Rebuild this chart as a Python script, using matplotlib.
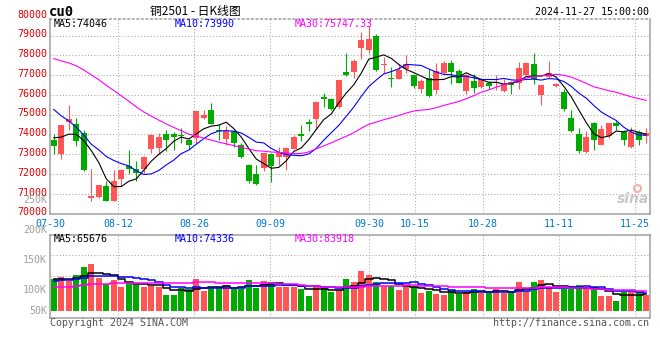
import matplotlib
matplotlib.use("Agg")
import matplotlib.pyplot as plt
import numpy as np
import pandas as pd

plt.rcParams['font.family'] = ['DejaVu Sans Mono', 'Noto Sans CJK SC']

# 日期刻度（交易日序号）
tick_dates = ['07-30', '08-12', '08-26', '09-09', '09-30', '10-15', '10-28', '11-11', '11-25']
tick_idx = [0, 9, 19, 29, 42, 48, 57, 67, 77]

# 日K数据 07-30 ~ 11-27
opens = [73700, 72990, 74640, 74510, 74090, 70780, 70830, 71420, 70660, 71740,
         72400, 72230, 72280, 73290, 73330, 74050, 74050, 73990, 73710, 73830,
         74850, 75230, 74250, 73750, 74200, 73480, 72450, 72010, 72310, 72990,
         72870, 72870, 73290, 74000, 74630, 74760, 75910, 75770, 75400, 77160,
         77160, 78390, 78270, 78980, 77510, 76870, 76820, 77330, 77010, 76280,
         76870, 76250, 77120, 77600, 77210, 76200, 76700, 76400, 76580, 76600,
         76200, 76650, 76620, 76990, 77550, 75980, 76920, 76450, 76140, 74810,
         74050, 73110, 74590, 73490, 73920, 74560, 74140, 73360, 74140, 73920]
highs = [74000, 74500, 75470, 74810, 74250, 72230, 71440, 71640, 72180, 72230,
         73240, 72650, 72900, 74030, 74100, 74250, 74120, 74340, 73750, 75200,
         75230, 75570, 74510, 74420, 74250, 73580, 72520, 72450, 73070, 73070,
         73360, 73360, 73950, 74460, 74760, 75690, 76080, 75860, 76750, 78140,
         77800, 79180, 79490, 79060, 77930, 77430, 77550, 78000, 77040, 76790,
         77290, 77630, 77710, 77770, 77290, 77040, 77040, 76870, 76700, 76990,
         76790, 76700, 77660, 77660, 78140, 76480, 77710, 76600, 76280, 75230,
         74340, 74170, 74630, 74460, 74590, 74680, 74250, 74390, 74220, 74340]
lows = [72990, 72740, 74250, 73410, 72150, 70630, 70800, 70630, 70630, 71380,
        71980, 71640, 72060, 73070, 72990, 73160, 73240, 73550, 73290, 73580,
        74760, 74510, 73710, 73490, 73360, 72820, 71550, 71470, 72140, 71600,
        72450, 72190, 73250, 73660, 74170, 74300, 75400, 75230, 75350, 76950,
        76870, 77830, 78100, 77210, 77120, 76400, 76790, 77120, 76360, 76110,
        75910, 76030, 77050, 76530, 76580, 76030, 76080, 76330, 76280, 76250,
        76160, 76030, 76280, 76950, 76530, 75470, 76870, 76420, 75180, 74120,
        73070, 73040, 73240, 73460, 73830, 74220, 73490, 73340, 73460, 73550]
closes = [73410, 74470, 74760, 73660, 72180, 70880, 71430, 70660, 71670, 72180,
          72230, 72030, 72850, 73970, 73880, 73710, 73880, 73920, 73460, 75180,
          75010, 74540, 74170, 74200, 73580, 72850, 71670, 71500, 73040, 72400,
          73070, 73330, 73870, 73920, 74510, 75640, 75820, 75300, 76740, 76990,
          77710, 78780, 78810, 77260, 77580, 76820, 77240, 77550, 76450, 76700,
          75940, 77210, 77630, 77160, 76620, 76990, 76330, 76790, 76450, 76650,
          76530, 76480, 77380, 77600, 76820, 76480, 77090, 76530, 75270, 74170,
          73160, 73880, 73710, 74290, 74560, 74420, 73710, 74140, 73710, 74090]
# 成交量
volumes = [118800, 121700, 116000, 125500, 138800, 144400, 121000, 110000, 117200, 105500,
           113300, 108800, 105500, 107200, 105500, 92200, 92200, 103300, 101700, 118800,
           99300, 106000, 105500, 108800, 102700, 101700, 117200, 104400, 115500, 113800,
           106000, 106000, 106000, 102200, 91000, 107200, 103300, 97700, 100500, 118800,
           113800, 132700, 125500, 113800, 107200, 107200, 100500, 106000, 106000, 96000,
           98800, 94400, 92200, 100500, 94400, 97700, 102200, 96000, 96000, 101700,
           95000, 98800, 113800, 98800, 113800, 117200, 106000, 97700, 101700, 105000,
           108800, 105000, 101700, 91000, 91000, 82200, 96600, 97700, 96600, 92200]

# 07-30 之前29个交易日（由均线起点估计，只用于计算均线）
pre_close = [77800, 77900, 78100, 78300, 78500, 78700, 79100, 79700, 80100, 80400,
             80700, 80500, 80300, 79900, 79500, 79200, 79000, 78600, 78200, 77900,
             77700, 77300, 76800, 76200, 75500, 74300, 74000, 73700, 73750]
pre_volume = [96000, 104000, 98000, 102000, 95000, 108000, 100000, 97000, 103000, 99000,
              101000, 94000, 106000, 100000, 98000, 102000, 97000, 104000, 99000, 97000,
              108000, 115000, 110000, 116000, 111000, 120000, 115000, 119000, 117200]

price_labels = [80000, 79000, 78000, 77000, 76000, 75000, 74000, 73000, 72000, 71000, 70000]
vol_labels = [250000, 200000, 150000, 100000, 50000]

n = len(closes)
x = np.arange(n)
o = np.array(opens); c = np.array(closes); h = np.array(highs); l = np.array(lows)
v = np.array(volumes)

cs = pd.Series(pre_close + closes)
vs = pd.Series(pre_volume + volumes)
ma = {k: cs.rolling(k).mean().values[-n:] for k in (5, 10, 30)}
vma = {k: vs.rolling(k).mean().values[-n:] for k in (5, 10, 30)}

RED = '#ff5555'
GREEN = '#00aa00'
cols = np.where(c >= o, RED, GREEN)
ma_cols = {5: 'black', 10: '#0000ff', 30: '#ff00ff'}

W, H = 660, 360
fig = plt.figure(figsize=(W / 100, H / 100), dpi=100)
ax = fig.add_axes([50 / W, 1 - 213.6 / H, 600 / W, (213.6 - 19) / H])
ax2 = fig.add_axes([50 / W, 1 - 317.7 / H, 600 / W, 83 / H])

# 日期网格位置（首尾对齐边框）
grid_x = [-0.5 + i * n / (n - 1) for i in tick_idx]
grid_kw = dict(color='#a8a8a8', lw=0.75, ls=(0, (1, 2)))

for a in (ax, ax2):
    a.set_xlim(-0.5, n - 0.5)
    for s in a.spines.values():
        s.set_color('#a0a0a0')
        s.set_linewidth(1.1)
    a.tick_params(length=0)
    for gx in grid_x[1:]:
        a.axvline(gx, zorder=0, **grid_kw)
ax.spines['top'].set_linestyle((0, (1, 2)))

# K线
ax.set_ylim(70000, 79840)
for pv in price_labels[1:-1]:
    ax.axhline(pv, zorder=0, **grid_kw)
ax.vlines(x, l, h, colors=cols, lw=0.8, zorder=2)
body = np.maximum(np.abs(c - o), 40)
ax.bar(x, body, bottom=np.minimum(o, c), width=0.8, color=cols, lw=0, zorder=3)
for k in (5, 10, 30):
    ax.plot(x, ma[k], color=ma_cols[k], lw=0.8, zorder=4)

ax.set_xticks(grid_x)
ax.set_xticklabels(tick_dates, color='#0077cc', fontsize=7.2)
ax.tick_params(axis='x', pad=4)
ax.set_yticks([])
for pv in price_labels:
    ax.annotate(str(pv), xy=(0, pv), xycoords=('axes fraction', 'data'),
                xytext=(-3, 1.3), textcoords='offset pixels', ha='right', va='center',
                color='#dd0000', fontsize=7.2, annotation_clip=False)

ax.text(4 / 600, 1 - 5 / 194.6, 'MA5:74046', transform=ax.transAxes, va='center', fontsize=7.2, color='black')
ax.text(125 / 600, 1 - 5 / 194.6, 'MA10:73990', transform=ax.transAxes, va='center', fontsize=7.2, color='#0000ff')
ax.text(245 / 600, 1 - 5 / 194.6, 'MA30:75747.33', transform=ax.transAxes, va='center', fontsize=7.2, color='#ff00ff')

# 新浪水印
ax.text(0.972, 0.075, 'sina', transform=ax.transAxes, ha='center', va='center',
        family='DejaVu Sans', fontstyle='italic', fontweight='bold', fontsize=10, color='#c8c8c8', zorder=1)
ax.plot([0.978], [0.13], transform=ax.transAxes, marker='o', ms=5, mfc='none', mec='#f4b0b0', mew=1.5, zorder=1)

# 成交量
vol_base = 65500
ax2.set_ylim(54300, 192700)
for fy in (0.5, 0.75):
    ax2.axhline(54300 + fy * (192700 - 54300), zorder=0, **grid_kw)
ax2.bar(x, v - vol_base, bottom=vol_base, width=0.8, color=cols, lw=0, zorder=2)
for k in (5, 10, 30):
    ax2.plot(x, vma[k], color=ma_cols[k], lw=1.1, drawstyle='steps-mid', zorder=3)
ax2.set_xticks(grid_x)
ax2.set_xticklabels([])
ax2.set_yticks([])
for vv in vol_labels:
    ax2.annotate('%dK' % (vv // 1000), xy=(0, max(vv, vol_base)), xycoords=('axes fraction', 'data'),
                 xytext=(-3, 0), textcoords='offset pixels', ha='right', va='center',
                 color='#a0a0a0', fontsize=7.2, annotation_clip=False)

ax2.text(4 / 600, 1 - 4 / 83, 'MA5:65676', transform=ax2.transAxes, va='center', fontsize=7.2, color='black')
ax2.text(125 / 600, 1 - 4 / 83, 'MA10:74336', transform=ax2.transAxes, va='center', fontsize=7.2, color='#0000ff')
ax2.text(245 / 600, 1 - 4 / 83, 'MA30:83918', transform=ax2.transAxes, va='center', fontsize=7.2, color='#ff00ff')

# 标题与底部文字
fig.text(49 / W, 1 - 12 / H, 'cu0', fontsize=10, fontweight='bold', va='center', color='black')
fig.text(195 / W, 1 - 12 / H, '铜2501 - 日K线图', fontsize=8.5, ha='center', va='center',
         family=['Noto Sans CJK SC', 'DejaVu Sans'], color='black')
fig.text(649 / W, 1 - 12 / H, '2024-11-27 15:00:00', fontsize=7.2, ha='right', va='center', color='black')
fig.text(50 / W, 1 - 323 / H, 'Copyright 2024 SINA.COM', fontsize=7.2, va='center', color='#555555')
fig.text(649 / W, 1 - 323.5 / H, 'http://finance.sina.com.cn', fontsize=7.2, ha='right', va='center', color='#555555')

plt.savefig('out.png', dpi=100)
